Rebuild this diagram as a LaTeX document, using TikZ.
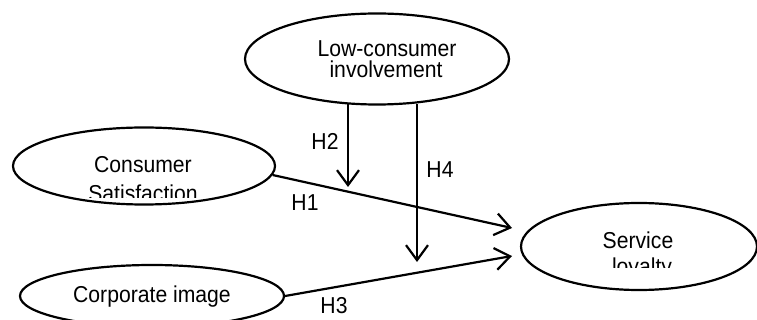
\documentclass[tikz,border=0pt]{standalone}
\usepackage{fontspec}
\setmainfont{Liberation Sans}[FakeStretch=0.92]
\usetikzlibrary{shapes.geometric,arrows.meta}
\begin{document}
\begin{tikzpicture}[x=1pt,y=-1pt,
  oval/.style={draw=black,line width=2.2pt,ellipse,inner sep=0pt},
  txt/.style={inner sep=0pt,anchor=base,font=\fontsize{23}{24}\selectfont},
  conn/.style={line width=2.2pt,-{Straight Barb[length=15pt,width=22pt]}}]
\clip (0,0) rectangle (757,320);
% ellipses
\node[oval,minimum width=264pt,minimum height=91pt] (lci) at (377,59) {};
\node[oval,minimum width=262pt,minimum height=77pt] (cs) at (144,166) {};
\node[oval,minimum width=264pt,minimum height=62pt] (ci) at (152,296) {};
\node[oval,minimum width=236pt,minimum height=87pt] (sl) at (639,246.5) {};
% texts
\node[txt] (lci1) at (387,57) {Low-consumer};
\node[txt] (lci2) at (386,78) {involvement};
\node[txt] (cs1) at (143,173) {Consumer};
\begin{scope}
\clip (60,180) rectangle (230,197.5);
\node[txt] (cs2) at (143,202) {Satisfaction};
\end{scope}
\node[txt] (ci1) at (152,302) {Corporate image};
\node[txt] (sl1) at (638,248) {Service};
\begin{scope}
\clip (580,255) rectangle (700,267);
\node[txt] (sl2) at (642,274.5) {loyalty};
\end{scope}
% labels
\node[txt] (h1) at (305,211) {H1};
\node[txt] (h2) at (325,150) {H2};
\node[txt] (h3) at (334,313) {H3};
\node[txt] (h4) at (440,178) {H4};
% free ends
\coordinate (h1tip) at (512,228);
\coordinate (h3tip) at (512,256);
\coordinate (h2tip) at (348,187);
\coordinate (h4tip) at (417,262);
% connectors
\draw[conn] (cs.-4) -- (h1tip);
\draw[conn] (ci.east) -- (h3tip);
\draw[conn] (lci.south -| h2tip) ++(0,-1.5) -- (h2tip);
\draw[conn] (lci.south -| h4tip) ++(0,-1.5) -- (h4tip);
\end{tikzpicture}
\end{document}
